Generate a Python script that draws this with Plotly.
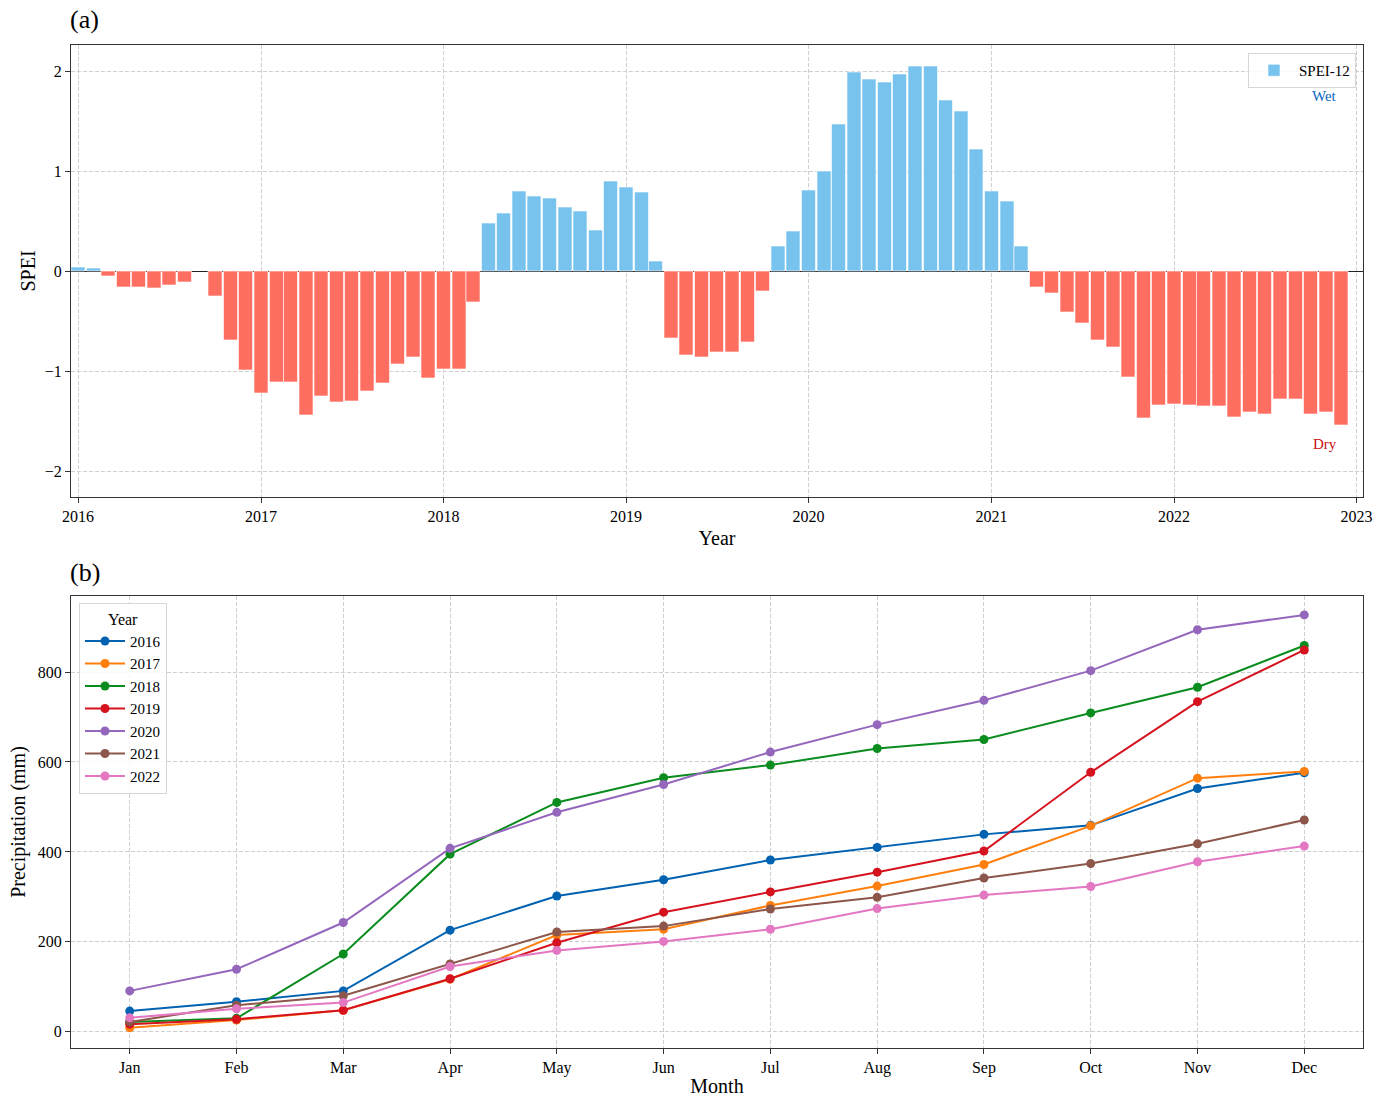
import plotly.graph_objects as go

# ---------------- Data ----------------
spei_dates = [f"{y}-{m:02d}-01" for y in range(2016, 2023) for m in range(1, 13)]
spei_values = [
    # 2016
    0.04, 0.03, -0.05, -0.16, -0.16, -0.17, -0.14, -0.11, None, -0.25, -0.69, -0.99,
    # 2017
    -1.22, -1.11, -1.11, -1.44, -1.25, -1.31, -1.30, -1.20, -1.12, -0.93, -0.86, -1.07,
    # 2018
    -0.98, -0.98, -0.31, 0.48, 0.58, 0.80, 0.75, 0.73, 0.64, 0.60, 0.41, 0.90,
    # 2019
    0.84, 0.79, 0.10, -0.67, -0.84, -0.86, -0.81, -0.81, -0.71, -0.20, 0.25, 0.40,
    # 2020
    0.81, 1.00, 1.47, 1.99, 1.92, 1.89, 1.97, 2.05, 2.05, 1.71, 1.60, 1.22,
    # 2021
    0.80, 0.70, 0.25, -0.16, -0.22, -0.41, -0.52, -0.69, -0.76, -1.06, -1.47, -1.34,
    # 2022
    -1.33, -1.34, -1.35, -1.35, -1.46, -1.41, -1.43, -1.28, -1.28, -1.43, -1.41, -1.54,
]
year_ticks = ["2016", "2017", "2018", "2019", "2020", "2021", "2022", "2023"]

months = ["Jan", "Feb", "Mar", "Apr", "May", "Jun", "Jul", "Aug", "Sep", "Oct", "Nov", "Dec"]
precip_2016 = [46, 67, 91, 226, 302, 338, 382, 410, 439, 459, 541, 576]
precip_2017 = [9, 26, 48, 117, 215, 228, 281, 324, 372, 458, 564, 579]
precip_2018 = [22, 30, 173, 395, 510, 565, 593, 630, 650, 709, 766, 859]
precip_2019 = [17, 28, 48, 118, 198, 266, 311, 355, 402, 577, 734, 849]
precip_2020 = [91, 139, 243, 408, 488, 550, 622, 683, 737, 803, 894, 927]
precip_2021 = [22, 59, 80, 151, 222, 235, 273, 299, 342, 374, 418, 471]
precip_2022 = [31, 51, 65, 145, 181, 201, 228, 274, 304, 323, 378, 413]
years = ["2016", "2017", "2018", "2019", "2020", "2021", "2022"]
year_series = [precip_2016, precip_2017, precip_2018, precip_2019,
               precip_2020, precip_2021, precip_2022]
year_colors = ["#0062B1", "#FF7F0E", "#0A8C1E", "#D5121E", "#9467BD", "#8C564B", "#E377C2"]

WET = "#78C3EE"
DRY = "#FF6F61"
FONT = "Liberation Serif, Times New Roman, serif"
GRID = "#cfcfcf"

W, H = 1389, 1097
def px(x0, x1):
    return [x0 / W, x1 / W]
def py(y_top, y_bot):
    return [(H - y_bot) / H, (H - y_top) / H]

fig = go.Figure()

bar_colors = [WET if (v is not None and v >= 0) else DRY for v in spei_values]
fig.add_trace(go.Bar(
    x=spei_dates, y=spei_values, name="SPEI-12",
    marker=dict(color=bar_colors, line=dict(color="white", width=0.6)),
    width=28 * 24 * 3600 * 1000,
    xaxis="x", yaxis="y", legend="legend", showlegend=True,
))

for yr, vals, col in zip(years, year_series, year_colors):
    fig.add_trace(go.Scatter(
        x=list(range(len(months))), y=vals, name=yr, mode="lines+markers",
        line=dict(color=col, width=2), marker=dict(color=col, size=9),
        xaxis="x2", yaxis="y2", legend="legend2",
    ))

axis_common = dict(
    showline=True, linecolor="#333333", linewidth=1, mirror=True,
    ticks="outside", ticklen=5, tickcolor="#333333", tickwidth=1,
    showgrid=True, gridcolor=GRID, griddash="4px,2px", gridwidth=1,
    tickfont=dict(family=FONT, size=16, color="black"),
    automargin=False,
)

fig.update_layout(
    width=W, height=H,
    margin=dict(l=0, r=0, t=0, b=0, autoexpand=False),
    paper_bgcolor="white", plot_bgcolor="white",
    font=dict(family=FONT, color="black"),
    barmode="overlay",
    xaxis=dict(
        **axis_common, zeroline=False, domain=px(71, 1363), anchor="y",
        type="date", range=["2015-12-18", "2023-01-14"],
        tickvals=[f"{y}-01-01" for y in year_ticks], ticktext=year_ticks,
        title=dict(text="Year", font=dict(family=FONT, size=20), standoff=6),
    ),
    yaxis=dict(
        **axis_common,
        domain=py(45, 497), anchor="x",
        range=[-2.26, 2.26], tickvals=[-2, -1, 0, 1, 2],
        zeroline=True, zerolinecolor="#222222", zerolinewidth=1.2,
        title=dict(text="SPEI", font=dict(family=FONT, size=20), standoff=3),
    ),
    xaxis2=dict(
        **axis_common, zeroline=False, domain=px(71, 1363), anchor="y2",
        range=[-0.55, 11.55], tickvals=list(range(12)), ticktext=months,
        title=dict(text="Month", font=dict(family=FONT, size=20), standoff=4),
    ),
    yaxis2=dict(
        **axis_common, zeroline=False, domain=py(596, 1048), anchor="x2",
        range=[-36, 969], tickvals=[0, 200, 400, 600, 800],
        title=dict(text="Precipitation (mm)", font=dict(family=FONT, size=20), standoff=6),
    ),
    legend=dict(
        x=1356 / W, y=(H - 53) / H, xanchor="right", yanchor="top",
        bgcolor="rgba(255,255,255,0.85)", bordercolor="#d6d6d6", borderwidth=1,
        font=dict(family=FONT, size=15), itemwidth=40,
    ),
    legend2=dict(
        x=79 / W, y=(H - 603) / H, xanchor="left", yanchor="top",
        bgcolor="rgba(255,255,255,0.85)", bordercolor="#d6d6d6", borderwidth=1,
        font=dict(family=FONT, size=15),
        title=dict(text="Year", font=dict(family=FONT, size=16), side="top center"),
        tracegroupgap=0, itemwidth=40,
    ),
    annotations=[
        dict(text="(a)", x=68 / W, y=(H - 20) / H, xref="paper", yref="paper",
             xanchor="left", yanchor="middle", showarrow=False,
             font=dict(family=FONT, size=26)),
        dict(text="(b)", x=68 / W, y=(H - 572) / H, xref="paper", yref="paper",
             xanchor="left", yanchor="middle", showarrow=False,
             font=dict(family=FONT, size=26)),
        dict(text="Wet", x=1339 / W, y=(H - 96) / H, xref="paper", yref="paper",
             xanchor="right", yanchor="middle", showarrow=False,
             font=dict(family=FONT, size=15, color="#0A66C2")),
        dict(text="Dry", x=1339 / W, y=(H - 444) / H, xref="paper", yref="paper",
             xanchor="right", yanchor="middle", showarrow=False,
             font=dict(family=FONT, size=15, color="#C81010")),
    ],
)

fig.write_html(
    "out.html",
    config={"displayModeBar": False},
    post_script="document.body.style.margin='0';document.body.style.overflow='hidden';",
)
